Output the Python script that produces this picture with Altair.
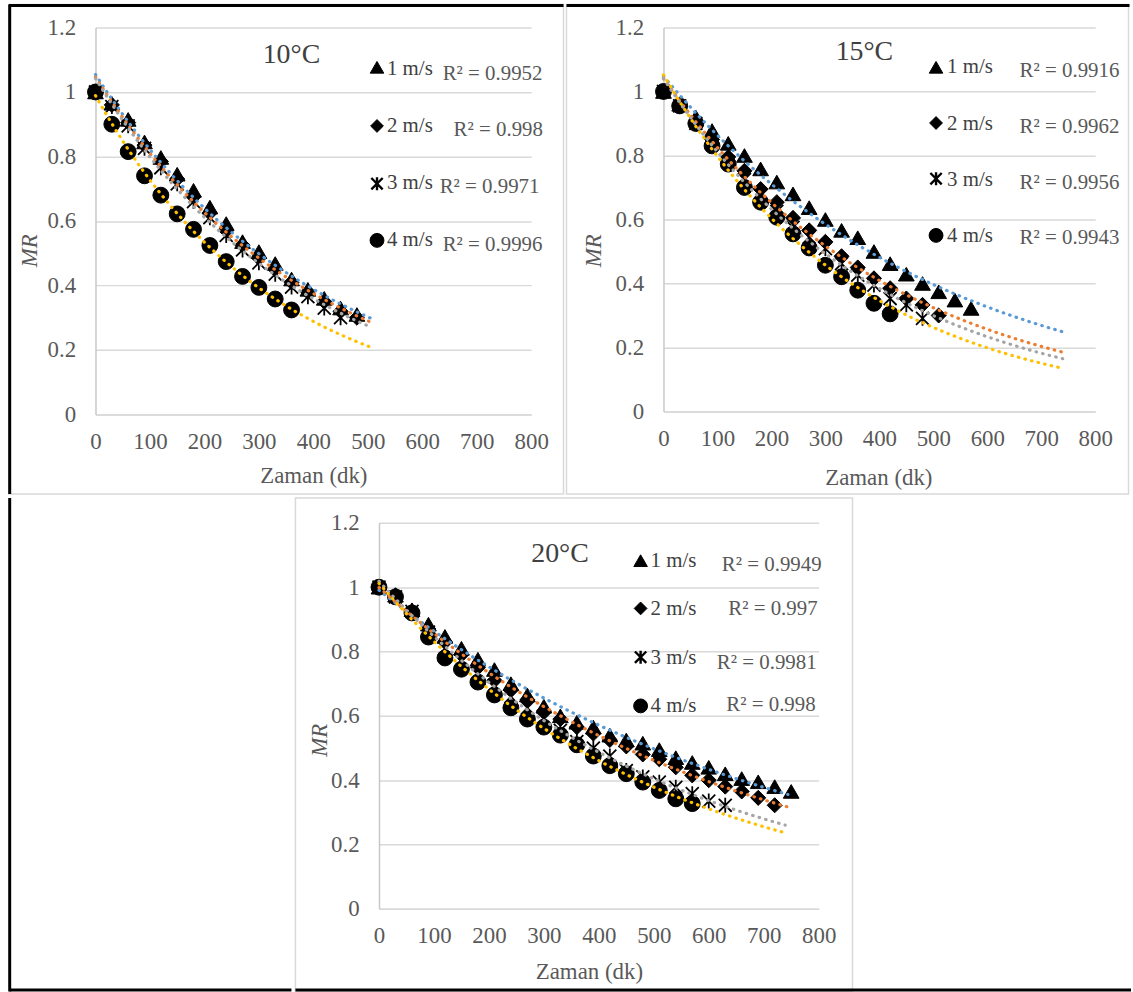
import altair as alt
import pandas as pd

SERIES = ["1 m/s", "2 m/s", "3 m/s", "4 m/s"]

# ---- data (MR vs time in minutes) ----
time_10 = [0, 30, 60, 90, 120, 150, 180, 210, 240, 270, 300, 330, 360, 390, 420, 450, 480]
mr_10_1 = [1.00, 0.965, 0.915, 0.845, 0.797, 0.745, 0.695, 0.643, 0.592, 0.536, 0.505, 0.468, 0.42, 0.388, 0.36, 0.33, 0.31]
mr_10_2 = [1.00, 0.96, 0.905, 0.835, 0.785, 0.73, 0.675, 0.625, 0.57, 0.525, 0.485, 0.45, 0.41, 0.38, 0.35, 0.32, 0.30]
mr_10_3 = [1.00, 0.955, 0.895, 0.825, 0.765, 0.715, 0.66, 0.61, 0.555, 0.51, 0.47, 0.435, 0.395, 0.365, 0.33, 0.30]
mr_10_4 = [1.00, 0.90, 0.815, 0.74, 0.68, 0.622, 0.574, 0.524, 0.474, 0.428, 0.394, 0.358, 0.324]

time_15 = [0, 30, 60, 90, 120, 150, 180, 210, 240, 270, 300, 330, 360, 390, 420, 450, 480, 510, 540, 570]
mr_15_1 = [1.00, 0.96, 0.92, 0.878, 0.838, 0.80, 0.758, 0.717, 0.68, 0.637, 0.60, 0.566, 0.543, 0.50, 0.462, 0.429, 0.40, 0.374, 0.348, 0.322]
mr_15_2 = [1.00, 0.955, 0.905, 0.85, 0.795, 0.752, 0.695, 0.654, 0.605, 0.566, 0.53, 0.485, 0.45, 0.416, 0.385, 0.353, 0.333, 0.30]
mr_15_3 = [1.00, 0.955, 0.90, 0.84, 0.78, 0.725, 0.675, 0.625, 0.575, 0.545, 0.509, 0.462, 0.426, 0.395, 0.353, 0.333, 0.291]
mr_15_4 = [1.00, 0.955, 0.90, 0.83, 0.773, 0.70, 0.654, 0.607, 0.555, 0.511, 0.457, 0.421, 0.379, 0.338, 0.305]

time_20 = [0, 30, 60, 90, 120, 150, 180, 210, 240, 270, 300, 330, 360, 390, 420, 450, 480, 510, 540, 570, 600, 630, 660, 690, 720, 750]
mr_20_1 = [1.00, 0.975, 0.93, 0.885, 0.847, 0.81, 0.776, 0.744, 0.70, 0.665, 0.63, 0.60, 0.58, 0.565, 0.54, 0.525, 0.515, 0.495, 0.47, 0.455, 0.44, 0.42, 0.405, 0.395, 0.38, 0.365]
mr_20_2 = [1.00, 0.975, 0.925, 0.87, 0.83, 0.79, 0.75, 0.71, 0.68, 0.65, 0.615, 0.59, 0.565, 0.545, 0.525, 0.505, 0.48, 0.465, 0.44, 0.415, 0.40, 0.38, 0.365, 0.345, 0.322]
mr_20_3 = [1.00, 0.97, 0.925, 0.86, 0.81, 0.77, 0.73, 0.695, 0.66, 0.625, 0.59, 0.555, 0.52, 0.50, 0.475, 0.43, 0.41, 0.394, 0.378, 0.358, 0.335, 0.322]
mr_20_4 = [1.00, 0.97, 0.92, 0.845, 0.78, 0.745, 0.705, 0.665, 0.625, 0.59, 0.565, 0.54, 0.51, 0.475, 0.445, 0.42, 0.394, 0.368, 0.342, 0.327]

titles = ["10°C", "15°C", "20°C"]
r2_10 = ["R² = 0.9952", "R² = 0.998", "R² = 0.9971", "R² = 0.9996"]
r2_15 = ["R² = 0.9916", "R² = 0.9962", "R² = 0.9956", "R² = 0.9943"]
r2_20 = ["R² = 0.9949", "R² = 0.997", "R² = 0.9981", "R² = 0.998"]

x_ticks = [0, 100, 200, 300, 400, 500, 600, 700, 800]
y_ticks = [0, 0.2, 0.4, 0.6, 0.8, 1.0, 1.2]
x_title = "Zaman (dk)"
y_title = "MR"

# ---- styling ----
FONT = "Liberation Serif"
COLORS = ["#5B9BD5", "#ED7D31", "#A5A5A5", "#FFC000"]
STAR = "M-1,-1L1,1M-1,1L1,-1M0,-1.15L0,1.15"
SHAPES = ["triangle-up", "diamond", STAR, "circle"]
SIZES = [250, 230, 170, 255]
LEG_SIZES = [185, 165, 130, 195]


def long_df(times, series_values):
    rows = []
    for s, vals in zip(SERIES, series_values):
        for t, v in zip(times, vals):
            rows.append({"series": s, "t": t, "MR": v})
    return pd.DataFrame(rows)


def one_row():
    return alt.Chart(alt.Data(values=[{"k": 0}]))


def hrule(x0, x1, y, color="black", w=3):
    return one_row().mark_rule(color=color, strokeWidth=w).encode(
        x=alt.value(x0), x2=alt.value(x1), y=alt.value(y))


def vrule(x, y0, y1, color="black", w=3):
    return one_row().mark_rule(color=color, strokeWidth=w).encode(
        x=alt.value(x), y=alt.value(y0), y2=alt.value(y1))


def panel(df, title, r2, g):
    xenc = alt.X(
        "t:Q",
        scale=alt.Scale(domain=[0, 800], nice=False),
        axis=alt.Axis(
            values=x_ticks, title=x_title, grid=False, ticks=False,
            domain=True, domainColor="#d9d9d9", domainWidth=1.5,
            labelPadding=16, labelFlush=False, labelOverlap=False,
            titleX=g["xt"][0], titleY=g["xt"][1],
            titleAlign="center", titleBaseline="alphabetic",
        ),
    )
    yenc = alt.Y(
        "MR:Q",
        scale=alt.Scale(domain=[0, 1.2], nice=False),
        axis=alt.Axis(
            values=y_ticks, format="~g", title=y_title, grid=True,
            gridColor="#d9d9d9", gridWidth=1.5, ticks=False,
            domain=True, domainColor="#c8c8c8", domainWidth=1.5,
            labelPadding=20, labelFlush=False, labelOverlap=False,
            titleX=g["yt"][0], titleY=g["yt"][1],
            titleAlign="center", titleBaseline="middle", titleAngle=270,
            titleFontStyle="italic",
        ),
    )
    base = alt.Chart(df)
    layers = []

    # chart-area frame
    fx0, fx1, fy0, fy1 = g["frame"]
    layers.append(one_row().mark_rect(fill="white", fillOpacity=0, stroke="#d9d9d9", strokeWidth=1.5).encode(
        x=alt.value(fx0), x2=alt.value(fx1), y=alt.value(fy0), y2=alt.value(fy1)))
    for r in g.get("hblack", []):
        layers.append(hrule(*r))
    for r in g.get("vblack", []):
        layers.append(vrule(*r))

    # markers
    for i, s in enumerate(SERIES):
        layers.append(
            base.transform_filter(alt.datum.series == s)
            .mark_point(shape=SHAPES[i], size=SIZES[i], fill="black", stroke="black",
                        strokeWidth=1.8 if i == 2 else 1.0, opacity=1, fillOpacity=1)
            .encode(x=xenc, y=yenc)
        )
    # exponential trendlines
    for i, s in enumerate(SERIES):
        layers.append(
            base.transform_filter(alt.datum.series == s)
            .transform_regression("t", "MR", method="exp", extent=[0, g["ext"][i]])
            .mark_line(color=COLORS[i], strokeWidth=3.2, strokeDash=[0.5, 6.3], strokeCap="round")
            .encode(x=xenc, y=yenc)
        )

    # temperature title
    tx, ty = g["title"]
    layers.append(one_row().mark_text(text=title, font=FONT, fontSize=28, color="#404040",
                                      align="center", baseline="alphabetic").encode(
        x=alt.value(tx), y=alt.value(ty)))
    # legend rows
    for i, s in enumerate(SERIES):
        layers.append(one_row().mark_point(shape=SHAPES[i], size=LEG_SIZES[i], fill="black", stroke="black",
                                           strokeWidth=2.4 if i == 2 else 1.0, opacity=1, fillOpacity=1).encode(
            x=alt.value(g["sym_x"]), y=alt.value(g["sym_y"][i])))
        layers.append(one_row().mark_text(text=s, font=FONT, fontSize=21, color="#404040",
                                          align="left", baseline="alphabetic").encode(
            x=alt.value(g["lab_x"]), y=alt.value(g["lab_y"][i])))
        layers.append(one_row().mark_text(text=r2[i], font=FONT, fontSize=21, color="#595959",
                                          align=g["r2_align"], baseline="alphabetic").encode(
            x=alt.value(g["r2_x"][i]), y=alt.value(g["r2_y"][i])))

    return alt.layer(*layers).properties(width=g["w"], height=g["h"])


g1 = dict(w=438, h=389, xt=(219, 68), yt=(-66, 224), ext=[508, 512, 505, 502],
          frame=(-87, 470.5, -23, 469),
          hblack=[(-87, 470.5, -22)], vblack=[(-86.25, -23, 469)],
          title=(197, 36), sym_x=283, sym_y=[40, 99, 157, 214], lab_x=293, lab_y=[48, 105, 162, 220],
          r2_align="left", r2_x=[349, 360, 346, 349], r2_y=[53, 109, 166, 225])
g2 = dict(w=434, h=386, xt=(216, 73), yt=(-70, 224), ext=[739, 740, 747, 739],
          frame=(-97.5, 467.5, -23, 469),
          hblack=[(-97.5, 468.5, -22)],
          title=(202, 33), sym_x=274, sym_y=[40, 96, 152, 209], lab_x=285, lab_y=[46, 103, 159, 216],
          r2_align="left", r2_x=[358, 358, 358, 358], r2_y=[50, 106, 162, 218])
g3 = dict(w=442, h=388, xt=(211, 70), yt=(-60, 218), ext=[744, 747, 739, 739],
          frame=(-84, 476, -25, 471),
          hblack=[(-84, 756, 469.5)],
          title=(182, 39), sym_x=263, sym_y=[38, 86, 135, 184], lab_x=273, lab_y=[44, 93, 142, 190],
          r2_align="right", r2_x=[445, 441, 440, 439], r2_y=[48, 93, 147, 189])

df10 = long_df(time_10, [mr_10_1, mr_10_2, mr_10_3, mr_10_4])
df15 = long_df(time_15, [mr_15_1, mr_15_2, mr_15_3, mr_15_4])
df20 = long_df(time_20, [mr_20_1, mr_20_2, mr_20_3, mr_20_4])

p1 = panel(df10, titles[0], r2_10, g1)
p2 = panel(df15, titles[1], r2_15, g2)
p3 = panel(df20, titles[2], r2_20, g3)

# empty spacer to the left of the bottom panel (carries the outer black border there)
SPACER_W = 197
spacer = alt.layer(
    vrule(-86.25, -25, 471),
    hrule(-86.25, SPACER_W, 469.5),
).properties(width=SPACER_W, height=388)

top = alt.hconcat(p1, p2, spacing=0)
bottom = alt.hconcat(spacer, p3, spacing=0)
chart = (
    alt.vconcat(top, bottom, spacing=0)
    .properties(padding={"left": 7, "top": 0, "right": 0, "bottom": 0}, background="white")
    .configure_view(strokeWidth=0)
    .configure_axis(labelFont=FONT, labelFontSize=23, labelColor="#595959",
                    titleFont=FONT, titleFontSize=23, titleColor="#595959",
                    titleFontWeight="normal")
)

chart.save("out.html", embed_options={"renderer": "svg", "actions": False})
